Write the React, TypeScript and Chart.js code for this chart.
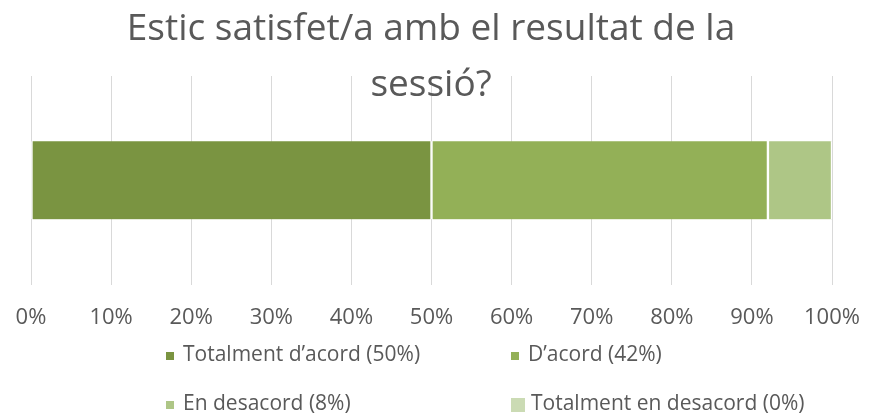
import React, { useEffect, useRef } from "react";
import { Chart, registerables } from "chart.js";

Chart.register(...registerables);

const titleLines = ["Estic satisfet/a amb el resultat de la", "sessió?"];
const categories = [""];
const seriesLabels = [
  "Totalment d’acord (50%)",
  "D’acord (42%)",
  "En desacord (8%)",
  "Totalment en desacord (0%)",
];
const seriesValues = [50, 42, 8, 0];
const seriesColors = ["#7A9441", "#93B057", "#AEC686", "#CBDBB4"];
const xTicks = [0, 10, 20, 30, 40, 50, 60, 70, 80, 90, 100];

const FONT = "'Open Sans', 'Noto Sans', sans-serif";
const TEXT = "#595959";

const overlayPlugin = {
  id: "overlay",
  afterDraw(chart: any) {
    const ctx = chart.ctx as CanvasRenderingContext2D;
    ctx.save();
    // title
    ctx.fillStyle = TEXT;
    ctx.font = `37px ${FONT}`;
    ctx.textAlign = "center";
    ctx.textBaseline = "alphabetic";
    const cx = 431;
    ctx.fillText(titleLines[0], cx, 40);
    ctx.fillText(titleLines[1], cx, 96);
    // legend (2 columns grid)
    const colX = [166, 511];
    const rowY = [356, 405];
    ctx.textAlign = "left";
    ctx.textBaseline = "middle";
    ctx.font = `21px ${FONT}`;
    chart.data.datasets.forEach((ds: any, i: number) => {
      const col = i % 2;
      const row = Math.floor(i / 2);
      const size = i === 3 ? 14 : 8;
      const mx = colX[col];
      const my = rowY[row];
      ctx.fillStyle = ds.backgroundColor;
      ctx.fillRect(mx, my - size / 2, size, size);
      ctx.fillStyle = TEXT;
      ctx.fillText(ds.label, mx + (i === 3 ? 20 : 17), my - 1);
    });
    ctx.restore();
  },
};

export default function App() {
  const ref = useRef<HTMLCanvasElement>(null);
  useEffect(() => {
    document.body.style.margin = "0";
    const chart = new Chart(ref.current!, {
      type: "bar",
      data: {
        labels: categories,
        datasets: seriesLabels.map((label, i) => ({
          label,
          data: [seriesValues[i]],
          backgroundColor: seriesColors[i],
          borderColor: "#ffffff",
          borderWidth: { left: 1.5, right: 1.5, top: 0, bottom: 0 },
          borderSkipped: false,
          barThickness: 78,
        })),
      },
      options: {
        indexAxis: "y",
        responsive: false,
        animation: false,
        layout: { padding: { left: 31, right: 38, top: 76, bottom: 78 } },
        plugins: {
          legend: { display: false },
          title: { display: false },
          tooltip: { enabled: false },
        },
        scales: {
          x: {
            stacked: true,
            min: 0,
            max: 100,
            afterBuildTicks: (axis: any) => {
              axis.ticks = xTicks.map((v) => ({ value: v }));
            },
            ticks: {
              callback: (v: any) => `${v}%`,
              color: TEXT,
              font: { family: FONT, size: 22 },
              padding: 5,
              maxRotation: 0,
              autoSkip: false,
            },
            grid: {
              color: "#D9D9D9",
              lineWidth: 1,
              drawTicks: true,
              tickLength: 15,
              tickColor: "rgba(0,0,0,0)",
            },
            border: { display: false },
          },
          y: { stacked: true, display: false },
        },
      },
      plugins: [overlayPlugin],
    });
    return () => chart.destroy();
  }, []);
  return (
    <div style={{ width: 870, height: 414 }}>
      <canvas ref={ref} width={870} height={414} />
    </div>
  );
}
